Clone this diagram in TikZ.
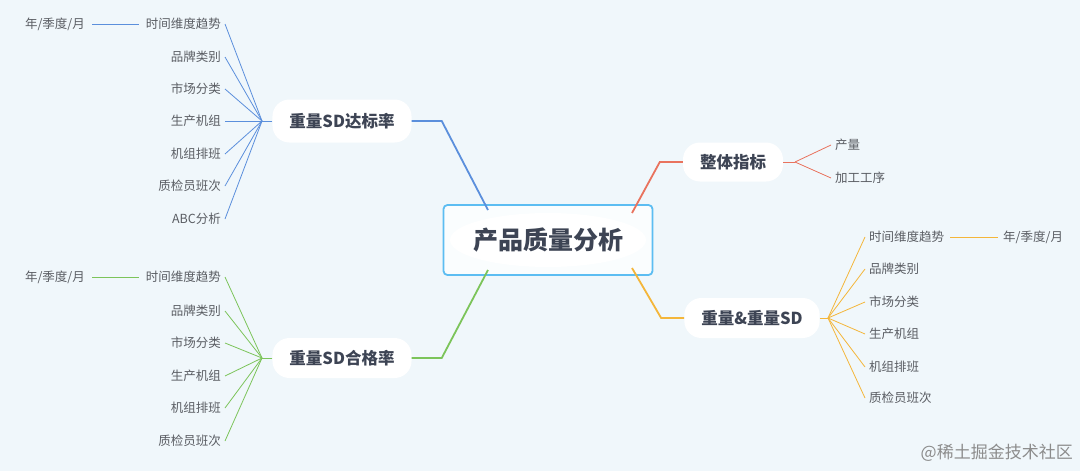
\documentclass[tikz,border=0pt]{standalone}
\usepackage{fontspec}
\setmainfont{Noto Sans CJK SC}
\definecolor{bgc}{HTML}{F0F7FB}
\definecolor{titc}{HTML}{3D4454}
\definecolor{leafc}{HTML}{5A5D63}
\definecolor{cblue}{HTML}{5B8FDC}
\definecolor{cgreen}{HTML}{7CC45A}
\definecolor{cred}{HTML}{E9735E}
\definecolor{corange}{HTML}{F4B63A}
\definecolor{cbox}{HTML}{5CBDF2}
\begin{document}
\begin{tikzpicture}[x=1pt,y=-1pt,
  leaf/.style={font=\fontsize{12.5}{14}\selectfont, text=leafc, inner xsep=4pt, inner ysep=2pt},
  lleaf/.style={leaf, anchor=east},
  rleaf/.style={leaf, anchor=west},
  branch/.style={fill=white, rounded corners=17pt, font=\bfseries\fontsize{16.5}{18}\selectfont, text=titc, inner xsep=17pt, inner ysep=0pt, minimum height=40pt},
  centerbox/.style={draw=cbox, line width=1.8pt, rounded corners=4pt, fill=white!70!bgc,
     minimum width=209pt, minimum height=70pt, font=\bfseries\fontsize{25}{28}\selectfont, text=titc,
     path picture={\fill[white] (path picture bounding box.center) ellipse (98pt and 27pt);}},
  mainline/.style={line width=1.8pt},
  twig/.style={line width=0.8pt},
  watermark/.style={font=\fontsize{17}{19}\selectfont, text=black!45, anchor=east, inner sep=0pt}
]
\useasboundingbox[fill=bgc] (0,0) rectangle (1080,471);

% center
\node[centerbox] (c) at (548,240) {产品质量分析};
\coordinate (a1) at (488,210);
\coordinate (a2) at (488,270);
\coordinate (a3) at (632,213);
\coordinate (a4) at (632,268);

% branches
\node[branch, minimum height=43pt] (b1) at (342,121) {重量SD达标率};
\node[branch] (b2) at (342,358) {重量SD合格率};
\node[branch, minimum height=39pt] (b3) at (733,162) {整体指标};
\node[branch] (b4) at (752,318) {重量\&重量SD};

\coordinate (h1) at (262,121);
\coordinate (h2) at (262,358);
\coordinate (h3) at (795,162);
\coordinate (h4) at (828,318);

\draw[mainline, cblue] (b1.east) -- ++(30,0) -- (a1);
\draw[mainline, cgreen] (b2.east) -- ++(30,0) -- (a2);
\draw[mainline, cred] (b3.west) -- ++(-23,0) -- (a3);
\draw[mainline, corange] (b4.west) -- ++(-23,0) -- (a4);

% left top leaves
\node[lleaf] (l1) at (225,24) {时间维度趋势};
\node[lleaf] (l2) at (225,57) {品牌类别};
\node[lleaf] (l3) at (225,89) {市场分类};
\node[lleaf] (l4) at (225,121) {生产机组};
\node[lleaf] (l5) at (225,154) {机组排班};
\node[lleaf] (l6) at (225,186) {质检员班次};
\node[lleaf] (l7) at (225,219) {ABC分析};
\node[lleaf] (l1y) at (89,24) {年/季度/月};
\begin{scope}[twig, cblue]
\draw (b1.west) -- (h1);
\foreach \n in {l1,l2,l3,l4,l5,l6,l7} \draw (h1) -- (\n.east);
\draw[shorten <=3pt, shorten >=3pt] (l1y.east) -- (l1.west);
\end{scope}

% left bottom leaves
\node[lleaf] (m1) at (225,277) {时间维度趋势};
\node[lleaf] (m2) at (225,311) {品牌类别};
\node[lleaf] (m3) at (225,343) {市场分类};
\node[lleaf] (m4) at (225,376) {生产机组};
\node[lleaf] (m5) at (225,408) {机组排班};
\node[lleaf] (m6) at (225,441) {质检员班次};
\node[lleaf] (m1y) at (89,277) {年/季度/月};
\begin{scope}[twig, cgreen]
\draw (b2.west) -- (h2);
\foreach \n in {m1,m2,m3,m4,m5,m6} \draw (h2) -- (\n.east);
\draw[shorten <=3pt, shorten >=3pt] (m1y.east) -- (m1.west);
\end{scope}

% right top leaves
\node[rleaf] (r1) at (831,145) {产量};
\node[rleaf] (r2) at (831,178) {加工工序};
\begin{scope}[twig, cred]
\draw (b3.east) -- (h3);
\foreach \n in {r1,r2} \draw (h3) -- (\n.west);
\end{scope}

% right bottom leaves
\node[rleaf] (s1) at (865,237) {时间维度趋势};
\node[rleaf] (s2) at (865,269) {品牌类别};
\node[rleaf] (s3) at (865,302) {市场分类};
\node[rleaf] (s4) at (865,334) {生产机组};
\node[rleaf] (s5) at (865,367) {机组排班};
\node[rleaf] (s6) at (865,398) {质检员班次};
\node[rleaf] (s1y) at (999,237) {年/季度/月};
\begin{scope}[twig, corange]
\draw (b4.east) -- (h4);
\foreach \n in {s1,s2,s3,s4,s5,s6} \draw (h4) -- (\n.west);
\draw[shorten <=2pt, shorten >=1pt] (s1.east) -- (s1y.west);
\end{scope}

% watermark
\node[watermark] (wm) at (1073,453) {@稀土掘金技术社区};
\end{tikzpicture}
\end{document}
